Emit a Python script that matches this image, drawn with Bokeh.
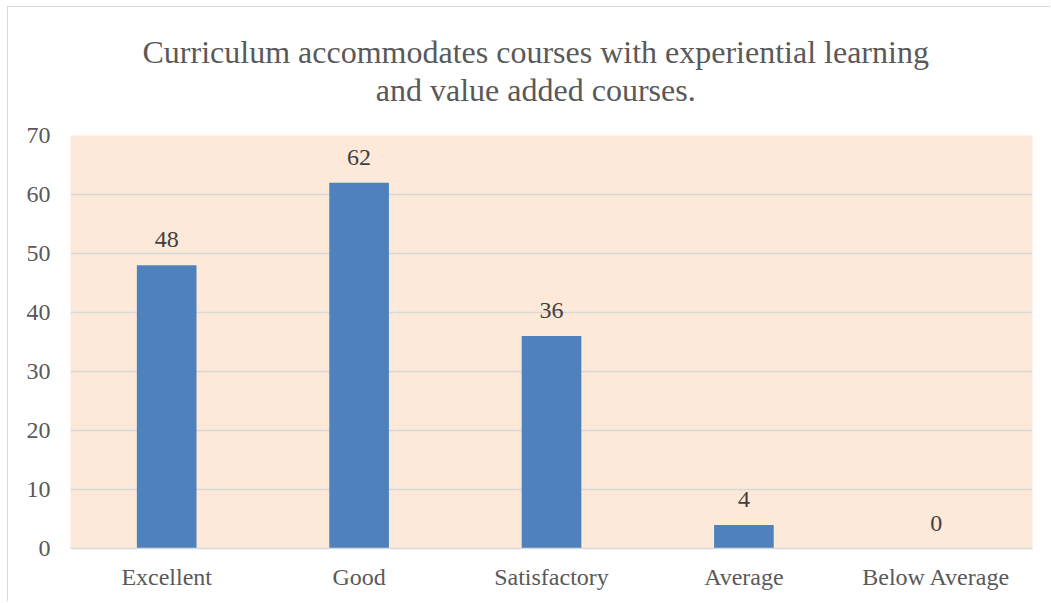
from bokeh.plotting import figure
from bokeh.models import ColumnDataSource, LabelSet
from bokeh.embed import file_html
from bokeh.resources import INLINE

categories = ["Excellent", "Good", "Satisfactory", "Average", "Below Average"]
values = [48, 62, 36, 4, 0]
title_text = ("Curriculum accommodates courses with experiential learning\n"
              "and value added courses.")

FONT = "Liberation Serif"
src = ColumnDataSource(dict(cat=categories, val=values, lab=[str(v) for v in values]))

p = figure(x_range=categories, y_range=(0, 70), width=1043, height=595,
           output_backend="svg", toolbar_location=None,
           min_border_left=62, min_border_right=19, min_border_top=128, min_border_bottom=54)
p.styles = {"border-top": "1.5px solid #d9d9d9", "border-left": "1.5px solid #d9d9d9",
            "margin-left": "7px", "margin-top": "6px"}
p.x_range.range_padding = 0
p.background_fill_color = "#FDE9D9"
p.border_fill_color = "white"
p.outline_line_color = None

p.title.text = title_text
p.title.align = "left"
p.title.offset = 72
p.title.text_align = "center"
p.title.vertical_align = "top"
p.title.text_font = FONT
p.title.text_font_size = "32px"
p.title.text_font_style = "normal"
p.title.text_color = "#595959"
p.title.text_line_height = 1.05
p.title.standoff = 51

p.vbar(x="cat", top="val", width=0.31, source=src, color="#4F81BD", line_color=None)

p.add_layout(LabelSet(x="cat", y="val", text="lab", source=src, text_align="center",
                      text_baseline="bottom", y_offset=18, text_font=FONT,
                      text_font_size="24px", text_color="#404040"))

p.yaxis.ticker = list(range(0, 71, 10))
p.ygrid.ticker = list(range(0, 71, 10))
p.ygrid.grid_line_color = "#d9d9d9"
p.ygrid.grid_line_width = 1.5
p.xgrid.grid_line_color = None

for ax in (p.xaxis, p.yaxis):
    ax.major_tick_line_color = None
    ax.minor_tick_line_color = None
    ax.major_label_text_font = FONT
    ax.major_label_text_font_size = "24px"
    ax.major_label_text_color = "#595959"
p.yaxis.axis_line_color = None
p.xaxis.axis_line_color = "#d9d9d9"
p.xaxis.axis_line_width = 1.5
p.yaxis.major_label_standoff = 14
p.xaxis.major_label_standoff = 9

open("out.html", "w").write(file_html(p, INLINE))
